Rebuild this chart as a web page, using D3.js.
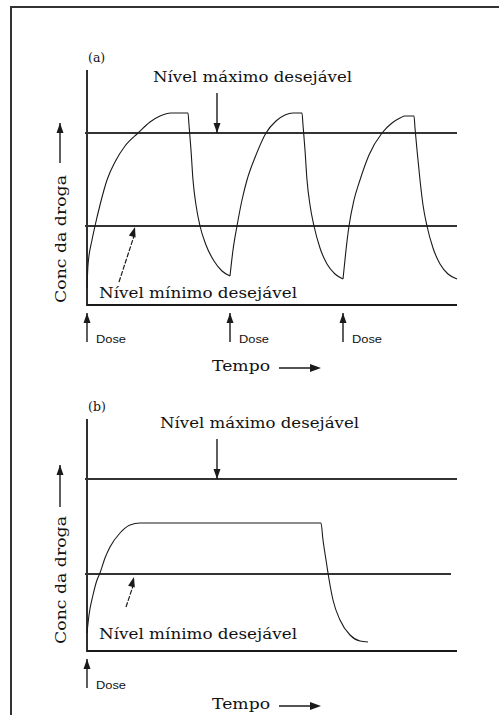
<!DOCTYPE html>
<html>
<head>
<meta charset="utf-8">
<script src="https://cdn.jsdelivr.net/npm/d3@7"></script>
<style>
  html, body { margin: 0; padding: 0; background: #fff; }
  svg { display: block; }
  .serif { font-family: "DejaVu Serif", "Liberation Serif", serif; fill: #111; }
  .sans  { font-family: "Liberation Sans", Arial, sans-serif; fill: #111; }
</style>
</head>
<body>
<svg id="chart" width="499" height="715"></svg>
<script>
// ── Data (time units, concentration units) ──────────────────────────────────
// panel (a): three doses, concentration oscillates
const cycleA1 = [[0,1.7],[0.1,4.0],[0.5,6.5],[0.8,7.9],[1.3,10.0],[2.0,12.5],[2.8,14.3],[3.8,15.9],
  [5.1,17.2],[6.3,18.3],[7.3,18.9],[8.4,19.2],[10.1,19.2],[10.2,18.0],[10.4,15.5],[10.6,12.5],
  [10.9,10.0],[11.3,7.9],[11.9,6.0],[12.7,4.4],[13.5,3.4],[14.3,2.9]];
const cycleA2 = [[14.3,2.9],[14.6,5.5],[15.0,7.9],[15.5,10.5],[16.0,12.5],[16.9,15.0],[17.9,17.2],
  [18.9,18.4],[19.8,19.0],[20.6,19.2],[21.5,19.2],[21.6,18.0],[21.8,15.5],[22.0,12.5],[22.3,10.0],
  [22.7,7.9],[23.3,5.7],[24.0,4.1],[24.8,3.1],[25.6,2.6]];
const cycleA3 = [[25.6,2.6],[25.9,5.5],[26.2,7.9],[26.7,10.5],[27.3,12.5],[28.2,15.0],[29.5,17.2],
  [30.5,18.2],[31.3,18.7],[31.8,18.9],[32.7,18.9],[32.8,17.7],[33.0,15.5],[33.3,12.5],[33.6,10.0],
  [34.0,7.9],[34.6,5.7],[35.3,4.1],[36.1,3.1],[37.0,2.6]];
const dosesA  = [0, 14.3, 25.6];
const levelsA = { max: 17.2, min: 7.9 };

// panel (b): single dose, plateau between the levels
const curveB = [[0,1.8],[0.2,3.6],[0.6,5.6],[1.0,7.1],[1.3,7.8],[1.8,9.3],[2.3,10.4],[3.3,11.8],
  [4.3,12.6],[5.3,12.8],[23.4,12.8],[23.6,11.1],[23.9,9.1],[24.1,7.8],[24.3,6.6],[24.6,5.1],
  [25.3,3.1],[26.3,1.6],[27.3,1.0],[28.1,0.9]];
const dosesB  = [0];
const levelsB = { max: 17.2, min: 7.7 };

const labels = {
  max: 'Nível máximo desejável',
  min: 'Nível mínimo desejável',
  y: 'Conc da droga',
  x: 'Tempo',
  dose: 'Dose'
};

// ── Setup ───────────────────────────────────────────────────────────────────
const svg = d3.select('#chart');
const ink = '#1a1a1a';

// frame (top + left only, cropped)
svg.append('path').attr('d', 'M11,715V7H499')
  .attr('fill', 'none').attr('stroke', '#333').attr('stroke-width', 2);

const x = d3.scaleLinear().domain([0, 37]).range([87, 457]);

function arrowV(g, px, y1, y2, headUp) {
  // line from y1 to y2, head at y2
  g.append('line').attr('x1', px).attr('x2', px).attr('y1', y1).attr('y2', y2)
    .attr('stroke', ink).attr('stroke-width', 1.4);
  const d = headUp ? -1 : 1;
  g.append('path')
    .attr('d', `M${px},${y2} L${px - 3.5},${y2 - d * 10} L${px + 3.5},${y2 - d * 10} Z`)
    .attr('fill', ink);
}

function panel(opts) {
  const g = svg.append('g');
  const y = d3.scaleLinear().domain([0, opts.cTop]).range([opts.base, opts.top]);
  const line = d3.line().x(d => x(d[0])).y(d => y(d[1])).curve(d3.curveMonotoneX);

  // axes
  g.append('path').attr('d', `M${x(0)},${opts.top}V${opts.base}H${x(37)}`)
    .attr('fill', 'none').attr('stroke', ink).attr('stroke-width', 1.8);

  // desired levels
  g.append('line').attr('x1', x(-0.2)).attr('x2', x(37))
    .attr('y1', y(opts.levels.max)).attr('y2', y(opts.levels.max))
    .attr('stroke', '#333').attr('stroke-width', 1.8);
  g.append('line').attr('x1', x(-0.2)).attr('x2', x(opts.minEnd))
    .attr('y1', y(opts.levels.min)).attr('y2', y(opts.levels.min))
    .attr('stroke', '#333').attr('stroke-width', 1.8);

  // concentration curve(s)
  opts.curves.forEach(c => {
    g.append('path').attr('d', line(c))
      .attr('fill', 'none').attr('stroke', ink).attr('stroke-width', 1.1);
  });

  // panel tag
  g.append('text').attr('class', 'serif').attr('x', 88).attr('y', opts.top - 8)
    .attr('font-size', 12.5).text(opts.tag);

  // max label + arrow
  g.append('text').attr('class', 'serif').attr('x', opts.maxX).attr('y', opts.maxBase)
    .attr('font-size', 15.5).attr('textLength', 199).attr('lengthAdjust', 'spacingAndGlyphs')
    .text(labels.max);
  arrowV(g, 217, opts.maxBase + 11, y(opts.levels.max), false);

  // min label + arrow
  g.append('text').attr('class', 'serif').attr('x', 99).attr('y', opts.minBase)
    .attr('font-size', 15.5).attr('textLength', 198).attr('lengthAdjust', 'spacingAndGlyphs')
    .text(labels.min);
  const ax = opts.minArrow;
  g.append('line').attr('x1', ax[0]).attr('y1', ax[1]).attr('x2', ax[2]).attr('y2', ax[3] + 6)
    .attr('stroke', ink).attr('stroke-width', 1.2).attr('stroke-dasharray', '5,1.5');
  const ang = Math.atan2(ax[3] - ax[1], ax[2] - ax[0]);
  const hx = (dx, dy) => [ax[2] + dx * Math.cos(ang) - dy * Math.sin(ang), ax[3] + dx * Math.sin(ang) + dy * Math.cos(ang)];
  g.append('path').attr('d', 'M' + [hx(0, 0), hx(-10, -3.5), hx(-10, 3.5)].join('L') + 'Z').attr('fill', ink);

  // y label with arrow
  g.append('text').attr('class', 'serif')
    .attr('transform', `translate(66,${opts.yLabelMid}) rotate(-90)`)
    .attr('text-anchor', 'middle').attr('font-size', 15)
    .attr('textLength', 128).attr('lengthAdjust', 'spacingAndGlyphs')
    .text(labels.y);
  arrowV(g, 60, opts.yArrow[1], opts.yArrow[0], true);

  // doses
  opts.doses.forEach(t => {
    arrowV(g, x(t), opts.base + 37, opts.base + 8, true);
    g.append('text').attr('class', 'sans').attr('x', x(t) + 9).attr('y', opts.base + 38)
      .attr('font-size', 11.5).attr('textLength', 30).attr('lengthAdjust', 'spacingAndGlyphs')
      .text(labels.dose);
  });

  // time label
  g.append('text').attr('class', 'serif').attr('x', 212).attr('y', opts.tempoBase)
    .attr('font-size', 15).attr('textLength', 58).attr('lengthAdjust', 'spacingAndGlyphs')
    .text(labels.x);
  g.append('line').attr('x1', 279).attr('x2', 314).attr('y1', opts.tempoBase - 3).attr('y2', opts.tempoBase - 3)
    .attr('stroke', ink).attr('stroke-width', 1.4);
  g.append('path')
    .attr('d', `M321,${opts.tempoBase - 3} L310,${opts.tempoBase - 7} L310,${opts.tempoBase + 1} Z`)
    .attr('fill', ink);
}

panel({
  tag: '(a)', top: 70, base: 305, cTop: 23.5,
  levels: levelsA, minEnd: 37,
  curves: [cycleA1, cycleA2, cycleA3],
  doses: dosesA,
  maxX: 153, maxBase: 82,
  minBase: 298, minArrow: [119, 282, 135, 227],
  yLabelMid: 239, yArrow: [123, 163],
  tempoBase: 371
});

panel({
  tag: '(b)', top: 419, base: 651, cTop: 23.2,
  levels: levelsB, minEnd: 36.4,
  curves: [curveB],
  doses: dosesB,
  maxX: 160, maxBase: 428,
  minBase: 639, minArrow: [126, 607, 134, 577],
  yLabelMid: 580, yArrow: [465, 507],
  tempoBase: 709
});
</script>
</body>
</html>
